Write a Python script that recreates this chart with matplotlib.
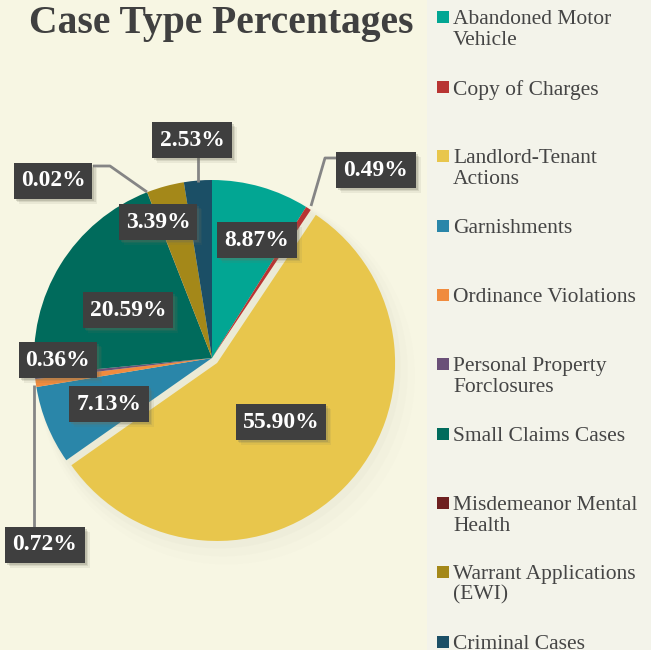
import matplotlib
matplotlib.use("Agg")
import matplotlib.pyplot as plt
from matplotlib.patches import Rectangle
import numpy as np

categories = ["Abandoned Motor\nVehicle", "Copy of Charges", "Landlord-Tenant\nActions",
              "Garnishments", "Ordinance Violations", "Personal Property\nForclosures",
              "Small Claims Cases", "Misdemeanor Mental\nHealth", "Warrant Applications\n(EWI)",
              "Criminal Cases"]
values = [8.87, 0.49, 55.90, 7.13, 0.72, 0.36, 20.59, 0.02, 3.39, 2.53]
colors = ["#02a693", "#b83433", "#e8c64c", "#2a86a9", "#f08b3e", "#6a5078",
          "#006b5c", "#6e2020", "#a48819", "#1b4f66"]
explode = [0, 0, 0.04, 0, 0, 0, 0, 0, 0, 0]

W, H = 651, 650
fig = plt.figure(figsize=(W / 100, H / 100), dpi=100)
fig.patch.set_facecolor("#f3f3ea")
fig.add_artist(Rectangle((0, 0), 427 / W, 1, transform=fig.transFigure,
                         facecolor="#f7f6e3", edgecolor="none", zorder=0))

SERIF = ["Liberation Serif", "DejaVu Serif"]
plt.rcParams["hatch.color"] = "#535353"
plt.rcParams["hatch.linewidth"] = 1.6

cx, cy, R = 212, 358, 178
axw = 424
ax = fig.add_axes([0, 0, axw / W, 1])
ax.set_axis_off()
ax.patch.set_alpha(0)


def px(x, y):
    return ((x - cx) / R, (cy - y) / R)


# soft shadow
for i, a in enumerate([0.06, 0.045, 0.03, 0.02]):
    ax.add_patch(plt.Circle((0.02 * (i + 1), -0.025 * (i + 1)), 1.0 + 0.02 * i,
                            color="#b0b090", alpha=a, zorder=1, lw=0))

wedges, _ = ax.pie(values, colors=colors, startangle=90, counterclock=False,
                   explode=explode, radius=1.0,
                   wedgeprops=dict(linewidth=0))
for w in wedges:
    w.set_zorder(2)
ax.set_xlim(-cx / R, (axw - cx) / R)
ax.set_ylim(-(H - cy) / R, cy / R)
ax.set_aspect("auto")

# leader lines
lc = "#858585"
leaders = [
    [(198, 156), (198, 182)],
    [(311, 206), (325, 158), (337, 158)],
    [(93, 166), (110, 166), (147, 192)],
    [(34, 385), (34, 530)],
]
for pts in leaders:
    xs, ys = zip(*[px(*p) for p in pts])
    ax.plot(xs, ys, color=lc, lw=2, zorder=3, solid_capstyle="butt")

# data labels
label_pos = [(257, 240), (376, 170), (281, 422), (109, 404), (45, 545),
             (58, 360), (128, 310), (53, 181), (158, 222), (192, 140)]
texts = []
for v, (lx, ly) in zip(values, label_pos):
    x, y = px(lx, ly)
    t = ax.text(x, y, f"{v:.2f}%", ha="center", va="center", fontsize=17,
                fontweight="bold", family=SERIF, color="white", zorder=6,
                bbox=dict(boxstyle="square,pad=0.3", fc="#3f3f3f", ec="none", hatch=".."))
    texts.append(t)

fig.canvas.draw()
for t in texts:
    bb = t.get_bbox_patch().get_window_extent()
    for off, a in [(5, 0.10), (3.5, 0.15), (2, 0.22)]:
        ax.add_artist(Rectangle(((bb.x0 + off) / W, (bb.y0 - off) / H),
                                bb.width / W, bb.height / H, transform=fig.transFigure,
                                facecolor="#6e6e5a", edgecolor="none", alpha=a, zorder=4))

# title
fig.text(221 / W, 1 - 24 / H, "Case Type Percentages", ha="center", va="center",
         fontsize=28.5, fontweight="bold", family=SERIF, color="#404040", zorder=5)

# legend
leg_y = [17, 87, 156, 226, 295, 364, 434, 503, 572, 642]
for lab, c, y in zip(categories, colors, leg_y):
    fig.add_artist(Rectangle((437 / W, 1 - (y + 6) / H), 12 / W, 12 / H,
                             transform=fig.transFigure, facecolor=c, edgecolor="none"))
    fig.text(453 / W, 1 - (y - 7) / H, lab, ha="left", va="top", fontsize=15.5,
             family=SERIF, color="#454545", linespacing=1.12)

fig.savefig("out.png", dpi=100, facecolor=fig.get_facecolor())
